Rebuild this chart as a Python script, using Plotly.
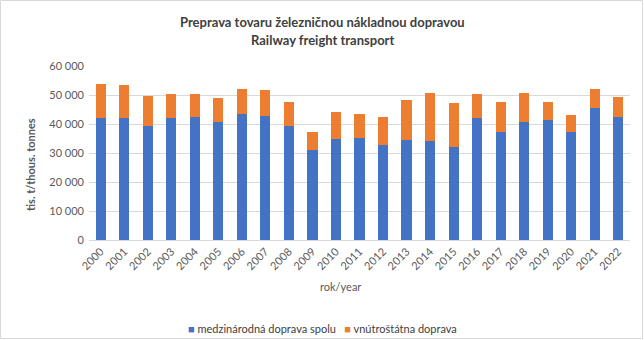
import plotly.graph_objects as go

years = [str(y) for y in range(2000, 2023)]
international = [42100, 42100, 39300, 42100, 42400, 40700, 43400, 42800, 39300, 31000,
                 34800, 35200, 32800, 34500, 34100, 32100, 42100, 37200, 40700, 41400,
                 37200, 45500, 42400]
totals = [53800, 53400, 49700, 50300, 50300, 49000, 52100, 51700, 47600, 37200,
          44100, 43400, 42400, 48300, 50700, 47200, 50300, 47600, 50700, 47600,
          43100, 52100, 49300]
domestic = [t - i for t, i in zip(totals, international)]

series_names = ["medzinárodná doprava spolu", "vnútroštátna doprava"]
series_colors = ["#4472C4", "#ED7D31"]
title_lines = ["Preprava tovaru železničnou nákladnou dopravou", "Railway freight transport"]
y_title = "tis. t/thous. tonnes"
x_title = "rok/year"
y_ticks = [0, 10000, 20000, 30000, 40000, 50000, 60000]
y_ticklabels = ["0", "10 000", "20 000", "30 000", "40 000", "50 000", "60 000"]

FONT = "Lato"
L, R, T, B = 89, 14, 66, 100
PW, PH = 644 - L - R, 340 - T - B


def px(xp):
    return (xp - L) / PW


def py(yp):
    return (340 - B - yp) / PH


fig = go.Figure()
fig.add_trace(go.Bar(x=years, y=international, name=series_names[0],
                     marker_color=series_colors[0], marker_line_width=0))
fig.add_trace(go.Bar(x=years, y=domestic, name=series_names[1],
                     marker_color=series_colors[1], marker_line_width=0))

fig.update_layout(
    barmode="stack",
    bargap=0.57,
    width=644, height=340,
    margin=dict(l=L, r=R, t=T, b=B),
    paper_bgcolor="white", plot_bgcolor="white",
    font=dict(family=FONT, size=11, color="#595959"),
    showlegend=False,
)
fig.update_yaxes(range=[0, 60000], tickvals=y_ticks, ticktext=y_ticklabels, automargin=False,
                 showgrid=True, gridcolor="#D9D9D9", gridwidth=1, zeroline=False,
                 showline=False, ticks="", ticklabelstandoff=4,
                 tickfont=dict(size=11, color="#595959"))
fig.update_xaxes(tickangle=-45, showline=True, linecolor="#D9D9D9", linewidth=1,
                 automargin=False, ticks="", tickfont=dict(size=11, color="#595959"),
                 showgrid=False)

# titles
fig.add_annotation(text="<b>" + title_lines[0] + "</b>", xref="paper", yref="paper",
                   x=px(322), y=py(22), showarrow=False, xanchor="center", yanchor="middle",
                   font=dict(size=13, color="#404040"))
fig.add_annotation(text="<b>" + title_lines[1] + "</b>", xref="paper", yref="paper",
                   x=px(322), y=py(40), showarrow=False, xanchor="center", yanchor="middle",
                   font=dict(size=13, color="#404040"))
fig.add_annotation(text="<b>" + y_title + "</b>", xref="paper", yref="paper",
                   x=px(30), y=py(165), showarrow=False, textangle=-90,
                   xanchor="center", yanchor="middle", font=dict(size=11, color="#595959"))
fig.add_annotation(text=x_title, xref="paper", yref="paper", x=px(340), y=py(286),
                   showarrow=False, font=dict(size=11, color="#595959"),
                   xanchor="center", yanchor="middle")
# legend
legend_text = "   ".join(
    f"<span style='color:{c}'>■</span> {n}" for n, c in zip(series_names, series_colors))
fig.add_annotation(text=legend_text, xref="paper", yref="paper", x=px(322), y=py(328),
                   showarrow=False, font=dict(size=11, color="#404040"),
                   xanchor="center", yanchor="middle")
# chart border
fig.add_shape(type="rect", xref="paper", yref="paper", x0=px(0.5), x1=px(642.5),
              y0=py(338.5), y1=py(0.5),
              line=dict(color="#D9D9D9", width=1), fillcolor="rgba(0,0,0,0)", layer="below")
fig.write_html("out.html")
